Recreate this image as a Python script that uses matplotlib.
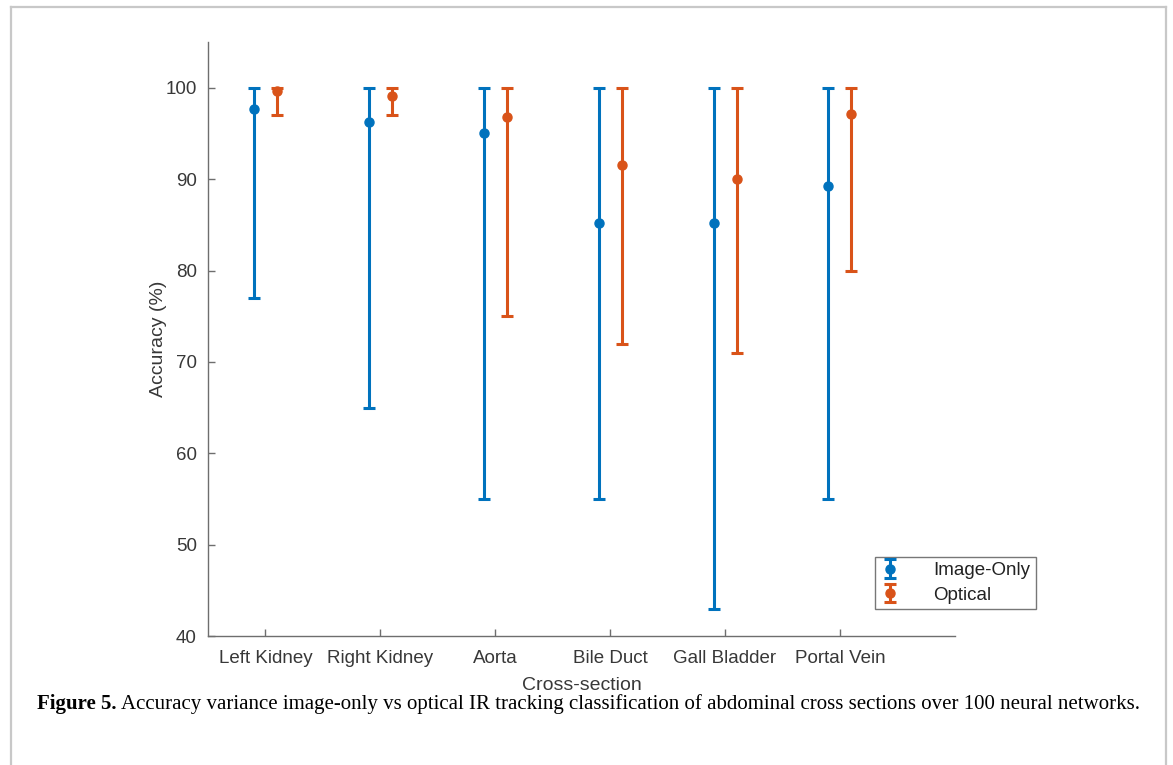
import numpy as np
import matplotlib
matplotlib.use("Agg")
import matplotlib.pyplot as plt
from matplotlib.lines import Line2D

# Data
sections = ["Left Kidney", "Right Kidney", "Aorta", "Bile Duct", "Gall Bladder", "Portal Vein"]

image_mean = [97.7, 96.2, 95.1, 85.2, 85.2, 89.3]
image_low = [77, 65, 55, 55, 43, 55]
image_high = [100, 100, 100, 100, 100, 100]

optical_mean = [99.7, 99.1, 96.8, 91.6, 90.0, 97.1]
optical_low = [97, 97, 75, 72, 71, 80]
optical_high = [100, 100, 100, 100, 100, 100]

blue = "#0072BD"
orange = "#D95319"

plt.rcParams["font.family"] = ["Liberation Sans", "DejaVu Sans"]

fig = plt.figure(figsize=(11.73, 7.65), dpi=100)
ax = fig.add_axes([0.1773, 0.1686, 0.6367, 0.7764])

x = np.arange(1, len(sections) + 1)


def draw(offset, mean, low, high, color, label):
    mean = np.array(mean)
    yerr = [mean - np.array(low), np.array(high) - mean]
    ax.errorbar(x + offset, mean, yerr=yerr, fmt="o", color=color,
                ecolor=color, elinewidth=2.2, capsize=4.3, capthick=2.2,
                markersize=6.5, label=label)


draw(-0.1, image_mean, image_low, image_high, blue, "Image-Only")
draw(0.1, optical_mean, optical_low, optical_high, orange, "Optical")

ax.set_xlim(0.5, 7)
ax.set_ylim(40, 105)
ax.set_yticks(range(40, 101, 10))
ax.set_xticks(x)
ax.set_xticklabels(sections)

for side in ["top", "right"]:
    ax.spines[side].set_visible(False)
for side in ["left", "bottom"]:
    ax.spines[side].set_color("#6e6e6e")
    ax.spines[side].set_linewidth(1.0)

ax.tick_params(direction="in", length=5, width=1, color="#6e6e6e",
               labelcolor="#383838", labelsize=13.5, pad=8)
ax.tick_params(axis="x", pad=10)

ax.set_xlabel("Cross-section", fontsize=14, color="#383838", labelpad=7)
ax.set_ylabel("Accuracy (%)", fontsize=14, color="#383838", labelpad=-1)

leg = ax.legend(loc="lower left", bbox_to_anchor=(0.893, 0.045),
                fontsize=13.5, fancybox=False, frameon=True,
                handlelength=1.0, borderpad=0.3, labelspacing=0.38,
                handletextpad=1.8, borderaxespad=0)
leg.get_frame().set_edgecolor("#555555")
leg.get_frame().set_linewidth(1.0)
for t in leg.get_texts():
    t.set_color("#222222")

# figure frame (open at the bottom)
W, H = 1173, 765
def fx(px):
    return px / W
def fy(py):
    return 1 - py / H
frame_kw = dict(color="#c8c8c8", linewidth=1.6, transform=fig.transFigure)
fig.add_artist(Line2D([fx(11), fx(11)], [fy(7), 0], **frame_kw))
fig.add_artist(Line2D([fx(11), fx(1166)], [fy(7), fy(7)], **frame_kw))
fig.add_artist(Line2D([fx(1166), fx(1166)], [fy(7), 0], **frame_kw))

# caption
cap_y = fy(704)
t1 = fig.text(fx(37), cap_y, "Figure 5.", fontsize=15, fontweight="bold",
              family="Liberation Serif", va="center", ha="left")
fig.canvas.draw()
bb = t1.get_window_extent()
fig.text(bb.x1 / W + 0.004, cap_y,
         "Accuracy variance image-only vs optical IR tracking classification of abdominal cross sections over 100 neural networks.",
         fontsize=15, family="Liberation Serif", va="center", ha="left")

fig.savefig("out.png", dpi=100)
